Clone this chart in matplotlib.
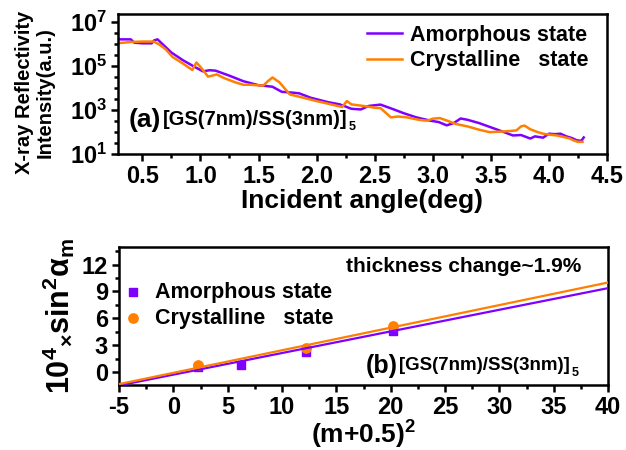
import numpy as np
import matplotlib.pyplot as plt
from matplotlib.ticker import FixedLocator, MultipleLocator, LogLocator, NullFormatter, LogFormatterSciNotation

plt.rcParams["font.family"] = ["Liberation Sans", "DejaVu Sans"]
plt.rcParams["font.weight"] = "bold"
plt.rcParams["axes.labelweight"] = "bold"
plt.rcParams["axes.unicode_minus"] = False
plt.rcParams["mathtext.fontset"] = "custom"
plt.rcParams["mathtext.rm"] = "Liberation Sans:bold"
plt.rcParams["mathtext.bf"] = "Liberation Sans:bold"
plt.rcParams["mathtext.it"] = "Liberation Sans:bold"
plt.rcParams["mathtext.sf"] = "Liberation Sans:bold"

PURPLE = "#7f00ff"
ORANGE = "#ff8000"

# (a) XRR curves, x in deg, log10 of intensity
amor_x = [0.30, 0.40, 0.43, 0.50, 0.58, 0.60, 0.63, 0.68, 0.75, 0.85, 0.95, 1.02, 1.08, 1.13,
          1.25, 1.37, 1.50, 1.62, 1.70, 1.80, 1.85, 1.95, 2.10, 2.20, 2.30, 2.38, 2.45, 2.55,
          2.65, 2.75, 2.86, 2.98, 3.05, 3.12, 3.18, 3.24, 3.30, 3.40, 3.50, 3.60, 3.69, 3.76,
          3.84, 3.88, 3.95, 4.00, 4.05, 4.10, 4.15, 4.20, 4.24, 4.28, 4.30]
amor_log = [6.20, 6.20, 6.05, 6.02, 6.02, 6.15, 6.20, 5.95, 5.60, 5.25, 4.95, 4.75, 4.80, 4.78,
            4.55, 4.30, 4.12, 4.05, 3.82, 3.78, 3.75, 3.55, 3.35, 3.25, 3.05, 3.02, 3.18, 3.24,
            3.05, 2.85, 2.66, 2.51, 2.45, 2.30, 2.40, 2.61, 2.55, 2.40, 2.21, 2.02, 1.84, 1.86,
            1.70, 1.80, 1.74, 1.92, 1.90, 1.92, 1.80, 1.72, 1.62, 1.60, 1.75]

crys_x = [0.30, 0.40, 0.50, 0.60, 0.65, 0.70, 0.76, 0.85, 0.93, 0.965, 1.00, 1.065, 1.10, 1.14,
          1.20, 1.30, 1.37, 1.43, 1.54, 1.58, 1.62, 1.68, 1.77, 1.85, 2.00, 2.10, 2.22, 2.26,
          2.30, 2.40, 2.50, 2.55, 2.64, 2.70, 2.78, 2.88, 2.95, 3.00, 3.06, 3.12, 3.20, 3.30,
          3.40, 3.49, 3.60, 3.68, 3.72, 3.76, 3.79, 3.84, 3.90, 3.95, 4.00, 4.07, 4.12, 4.18,
          4.22, 4.25, 4.29]
crys_log = [6.03, 6.08, 6.10, 6.10, 5.95, 5.75, 5.40, 5.10, 4.81, 5.15, 4.95, 4.51, 4.55, 4.61,
            4.45, 4.25, 4.14, 4.14, 4.10, 4.30, 4.47, 4.25, 3.70, 3.60, 3.40, 3.28, 3.13, 3.40,
            3.25, 3.18, 3.10, 3.08, 2.66, 2.70, 2.66, 2.55, 2.51, 2.60, 2.63, 2.52, 2.36, 2.25,
            2.10, 1.99, 2.02, 2.05, 2.07, 2.25, 2.29, 2.12, 2.00, 1.92, 1.88, 1.84, 1.78, 1.70,
            1.60, 1.55, 1.55]

# (b) peak positions and fits
m_amor = [2.25, 6.25, 12.25, 20.25]
s_amor = [0.53, 0.78, 2.27, 4.60]
m_crys = [2.25, 12.25, 20.25]
s_crys = [0.78, 2.70, 5.18]
fit_x = [-5, 40]
fit_amor = [-1.50, 9.37]
fit_crys = [-1.35, 10.00]

fig = plt.figure(figsize=(6.26, 4.5), dpi=100)
ax1 = fig.add_axes([0.1885, 0.6578, 0.7811, 0.3111])
ax2 = fig.add_axes([0.1901, 0.1444, 0.7812, 0.3074])

def style_ax(ax):
    for s in ax.spines.values():
        s.set_linewidth(1.8)
    ax.tick_params(which="both", direction="out", top=False, right=False, width=1.8,
                   labelsize=17, pad=3)
    ax.tick_params(which="major", length=5)
    ax.tick_params(which="minor", length=3)

def sample_label(ax, x, y, head, body, head_size, body_size):
    # "(a)[GS(7nm)/SS(3nm)]" followed by a small subscript 5
    t1 = ax.text(x, y, head, transform=ax.transAxes, fontsize=head_size, va="center")
    t2 = ax.annotate(body, xy=(1, 0.5), xycoords=t1, xytext=(1, 0), textcoords="offset points",
                     fontsize=body_size, va="center", ha="left")
    ax.annotate("5", xy=(1, 0.5), xycoords=t2, xytext=(1, -5), textcoords="offset points",
                fontsize=9, va="center", ha="left")

ax1.plot(amor_x, 10 ** np.array(amor_log), color=PURPLE, lw=1.8, label="Amorphous state")
ax1.plot(crys_x, 10 ** np.array(crys_log), color=ORANGE, lw=1.8, label="Crystalline   state")
ax1.set_yscale("log")
ax1.set_xlim(0.29, 4.5)
ax1.set_ylim(10, 10 ** 7.35)
ax1.xaxis.set_major_locator(MultipleLocator(0.5))
ax1.xaxis.set_minor_locator(MultipleLocator(0.25))
ax1.xaxis.set_major_formatter(plt.FuncFormatter(lambda v, p: f"{v:.1f}"))
ax1.yaxis.set_major_locator(FixedLocator([1e1, 1e3, 1e5, 1e7]))
ax1.yaxis.set_major_formatter(LogFormatterSciNotation())
ax1.yaxis.set_minor_locator(LogLocator(base=10, subs=(1.0, 3.0), numticks=20))
ax1.yaxis.set_minor_formatter(NullFormatter())
style_ax(ax1)
ax1.set_xlabel("Incident angle(deg)", fontsize=19, labelpad=1)
ax1.set_ylabel("X-ray Reflectivity\nIntensity(a.u.)", fontsize=14.5, linespacing=1.1)
ax1.yaxis.set_label_coords(-0.13, 0.44)
ax1.legend(loc="upper right", frameon=False, fontsize=15.5, handlelength=1.6,
           handletextpad=0.4, borderaxespad=0.1, labelspacing=0.2, bbox_to_anchor=(0.985, 1.0))
sample_label(ax1, 0.022, 0.245, "(a)", "[GS(7nm)/SS(3nm)]", 19, 14.5)

ax2.plot(fit_x, fit_amor, color=PURPLE, lw=1.6, zorder=3)
ax2.plot(fit_x, fit_crys, color=ORANGE, lw=1.6, zorder=3)
ax2.scatter(m_amor, s_amor, marker="s", s=30, color=PURPLE, zorder=2, label="Amorphous state")
ax2.scatter(m_crys, s_crys, marker="o", s=45, color=ORANGE, zorder=2, label="Crystalline   state")
ax2.set_xlim(-5, 40)
ax2.set_ylim(-1.45, 14)
ax2.xaxis.set_major_locator(MultipleLocator(5))
ax2.xaxis.set_minor_locator(MultipleLocator(2.5))
ax2.yaxis.set_major_locator(FixedLocator([0, 3, 6, 9, 12]))
ax2.yaxis.set_minor_locator(MultipleLocator(1.5))
style_ax(ax2)
ax2.set_xlabel(r"(m+0.5)$^2$", fontsize=19, labelpad=0)
ax2.set_ylabel(r"10$^4$$_{\times}$sin$^2$$\alpha_\mathrm{m}$", fontsize=22, labelpad=3)
ax2.legend(loc="upper left", frameon=False, fontsize=15.5, handlelength=0.8,
           handletextpad=0.6, borderaxespad=0.2, labelspacing=0.25, bbox_to_anchor=(-0.015, 0.84))
ax2.text(0.945, 0.86, "thickness change~1.9%", transform=ax2.transAxes, fontsize=15,
         ha="right", va="center")
sample_label(ax2, 0.505, 0.14, "(b)", "[GS(7nm)/SS(3nm)]", 18, 13.5)

fig.savefig("out.png", dpi=100)
